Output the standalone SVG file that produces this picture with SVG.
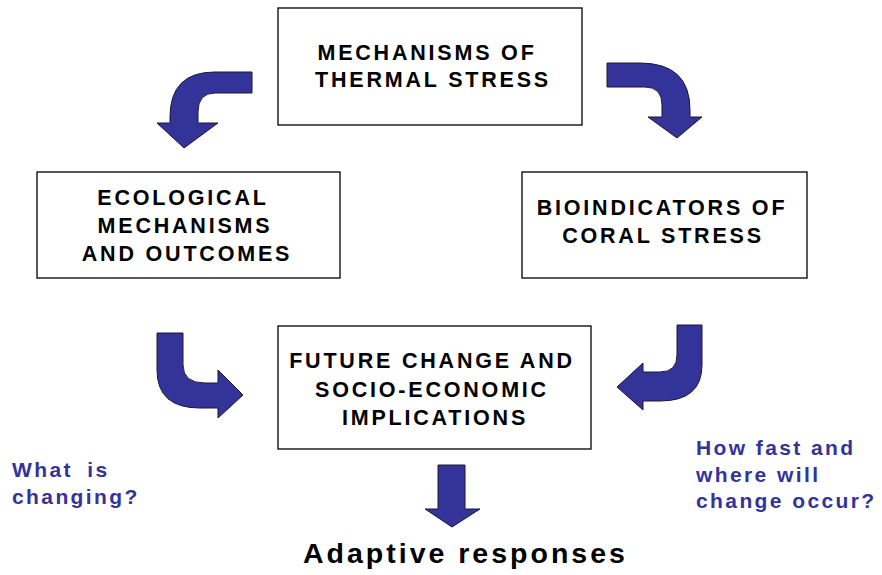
<svg xmlns="http://www.w3.org/2000/svg" width="882" height="575" viewBox="0 0 882 575">
  <style>
    .box { fill: #ffffff; stroke: #000000; stroke-width: 1.3; }
    .lbl { font-family: "Liberation Sans", Arial, sans-serif; font-weight: bold; font-size: 21.5px; letter-spacing: 2.8px; fill: #000000; text-anchor: middle; }
    .q { font-family: "Liberation Sans", Arial, sans-serif; font-weight: bold; font-size: 21px; letter-spacing: 2.4px; fill: #333399; }
    .arrow { fill: #333399; stroke: #1a1a33; stroke-width: 1; stroke-linejoin: miter; }
    .title { font-family: "Liberation Sans", Arial, sans-serif; font-weight: bold; font-size: 28.5px; letter-spacing: 3px; fill: #000000; }
  </style>
  <rect width="882" height="575" fill="#ffffff"/>

  <!-- curved block arrows between the boxes -->
  <g id="connectors">
    <path class="arrow" d="M252,72 L215,72 Q170,72 170,117 L170,123 L157,123 L184,148 L218,123 L198,123 L198,112 Q198,93 215,93 L252,93 Z"/>
    <path class="arrow" d="M607,63 L640,63 Q690,63 690,110 L690,117 L702,117 L677,138 L648,117 L662,117 L662,105 Q662,87 645,87 L607,87 Z"/>
    <path class="arrow" d="M157,333 L183,333 L183,365 Q183,383 205,383 L218,383 L218,370 L243,395 L218,418 L218,408 L200,408 Q157,408 157,370 Z"/>
    <path class="arrow" d="M677,325 L702,325 L702,365 Q702,401 660,401 L643,401 L643,410 L617,387 L643,363 L643,372 L660,372 Q677,372 677,355 Z"/>
    <path class="arrow" d="M438,465 L465,465 L465,509 L480,509 L452,527 L425,509 L438,509 Z"/>
  </g>

  <g id="thermal-stress">
    <rect class="box" x="278" y="8" width="304" height="117"/>
    <text class="lbl" x="427" y="60">MECHANISMS OF</text>
    <text class="lbl" x="433" y="87">THERMAL STRESS</text>
  </g>

  <g id="ecological">
    <rect class="box" x="37" y="172" width="303" height="106"/>
    <text class="lbl" x="183" y="205">ECOLOGICAL</text>
    <text class="lbl" x="185" y="233">MECHANISMS</text>
    <text class="lbl" x="187" y="261">AND OUTCOMES</text>
  </g>

  <g id="bioindicators">
    <rect class="box" x="522" y="172" width="285" height="106"/>
    <text class="lbl" x="662" y="215">BIOINDICATORS OF</text>
    <text class="lbl" x="663" y="243">CORAL STRESS</text>
  </g>

  <g id="future-change">
    <rect class="box" x="278" y="326" width="313" height="123"/>
    <text class="lbl" x="432" y="368">FUTURE CHANGE AND</text>
    <text class="lbl" x="432" y="397">SOCIO-ECONOMIC</text>
    <text class="lbl" x="435" y="425">IMPLICATIONS</text>
  </g>

  <g id="what-changing">
    <text class="q" x="12" y="477" word-spacing="6">What is</text>
    <text class="q" x="12" y="504">changing?</text>
  </g>

  <g id="how-fast">
    <text class="q" x="696" y="455">How fast and</text>
    <text class="q" x="696" y="482">where will</text>
    <text class="q" x="696" y="508">change occur?</text>
  </g>

  <g id="adaptive">
    <text class="title" x="303" y="563">Adaptive responses</text>
  </g>
</svg>
